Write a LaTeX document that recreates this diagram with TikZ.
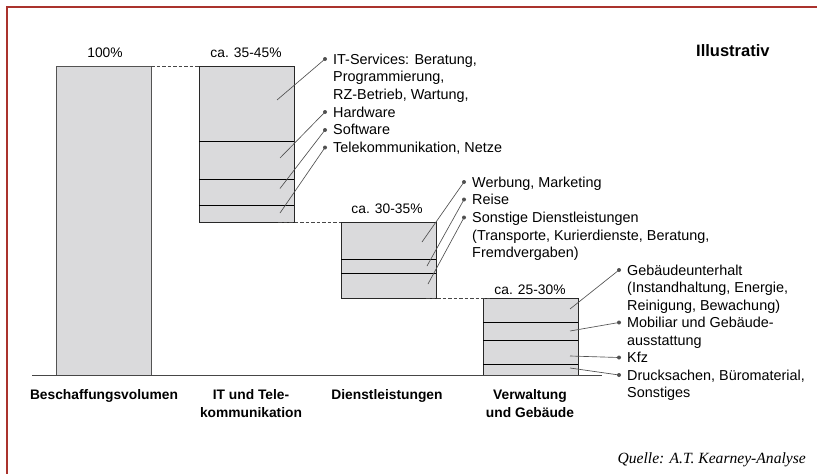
\documentclass[tikz,border=0pt]{standalone}
\usepackage{fontspec}
\setmainfont{Liberation Sans}
\newfontfamily\quellefont{Liberation Serif}
\definecolor{framered}{RGB}{170,50,45}
\definecolor{barfill}{RGB}{218,218,220}
\definecolor{barline}{RGB}{40,40,40}
\definecolor{dashgray}{RGB}{70,70,70}
\definecolor{leadgray}{RGB}{80,80,80}
\begin{document}
\begin{tikzpicture}[x=1pt,y=-1pt,
  bar/.style={draw=barline, fill=barfill, line width=1.1pt, inner sep=0pt, anchor=north west},
  divider/.style={draw=black, line width=1pt},
  dashlink/.style={draw=dashgray, dash pattern=on 3.5pt off 2pt, line width=0.9pt},
  leader/.style={draw=leadgray, line width=0.65pt},
  dot/.style={circle, fill=leadgray, inner sep=0pt, minimum size=4pt},
  lbl/.style={font=\fontsize{14.4}{17.7}\selectfont, inner sep=0pt, align=left, anchor=base west},
  pct/.style={font=\fontsize{13.8}{17.7}\selectfont, inner sep=0pt, anchor=base},
  axislbl/.style={font=\bfseries\fontsize{13.8}{18.5}\selectfont, inner sep=0pt, align=center, anchor=base},
  frameline/.style={draw=framered, line width=1.5pt}
]
\useasboundingbox (0,0) rectangle (817,474);
% frame
\draw[frameline] (7,474) -- (7,7) -- (817,7);

% bars
\node[bar, minimum width=95pt, minimum height=309pt, draw=barline!80] (b1) at (56,66) {};
\node[bar, minimum width=94.5pt, minimum height=156pt] (b2) at (199,66) {};
\node[bar, minimum width=95pt, minimum height=76pt] (b3) at (341,222) {};
\node[bar, minimum width=94.5pt, minimum height=77pt] (b4) at (483,298) {};

% dividers
\draw[divider] (199,141) -- (293.5,141);
\draw[divider] (199,179) -- (293.5,179);
\draw[divider] (199,205) -- (293.5,205);
\draw[divider] (341,259) -- (436,259);
\draw[divider] (341,273) -- (436,273);
\draw[divider] (483,322) -- (577.5,322);
\draw[divider] (483,340) -- (577.5,340);
\draw[divider] (483,364) -- (577.5,364);

% axis
\coordinate (axl) at (32,375);
\coordinate (axr) at (602,375);
\draw[draw=dashgray, line width=1pt] (axl) -- (axr);

% dashed links
\coordinate (l1a) at (151,66);  \coordinate (l1b) at (199,66);
\coordinate (l2a) at (278,222); \coordinate (l2b) at (341,222);
\coordinate (l3a) at (426,298); \coordinate (l3b) at (492,298);
\draw[dashlink] (l1a) -- (l1b);
\draw[dashlink] (l2a) -- (l2b);
\draw[dashlink] (l3a) -- (l3b);

% percent labels
\node[pct] (p1) at (105,57) {100\%};
\node[pct] (p2) at (246,57) {ca. 35-45\%};
\node[pct] (p3) at (387,213) {ca. 30-35\%};
\node[pct] (p4) at (530,294) {ca. 25-30\%};

% leader start points
\coordinate (s1) at (277,100);
\coordinate (s2) at (280,158);
\coordinate (s3) at (280,188.5);
\coordinate (s4) at (280,213);
\coordinate (s5) at (422,242);
\coordinate (s6) at (427,266);
\coordinate (s7) at (428,284);
\coordinate (s8) at (570,309);
\coordinate (s9) at (570,331);
\coordinate (s10) at (570,356);
\coordinate (s11) at (570,368);

% dots
\node[dot] (d1) at (325,59) {};
\node[dot] (d2) at (325,112) {};
\node[dot] (d3) at (325,130) {};
\node[dot] (d4) at (325,147.5) {};
\node[dot] (d5) at (464,182) {};
\node[dot] (d6) at (464,199.5) {};
\node[dot] (d7) at (464,217.5) {};
\node[dot] (d8) at (619,270) {};
\node[dot] (d9) at (619,322.5) {};
\node[dot] (d10) at (619,357.5) {};
\node[dot] (d11) at (619,375) {};

\foreach \i in {1,...,11} \draw[leader] (s\i) -- (d\i.center);

% item labels (multi-line nodes: base = last line)
\node[lbl] (t1) at (333,99.4) {IT-Services: Beratung,\\Programmierung,\\RZ-Betrieb, Wartung,};
\node[lbl] (t2) at (333,117) {Hardware};
\node[lbl] (t3) at (333,134.7) {Software};
\node[lbl] (t4) at (333,152.4) {Telekommunikation, Netze};
\node[lbl] (t5) at (472,187) {Werbung, Marketing};
\node[lbl] (t6) at (472,204.7) {Reise};
\node[lbl] (t7) at (472,257.8) {Sonstige Dienstleistungen\\(Transporte, Kurierdienste, Beratung,\\Fremdvergaben)};
\node[lbl] (t8) at (627,310.4) {Gebäudeunterhalt\\(Instandhaltung, Energie,\\Reinigung, Bewachung)};
\node[lbl] (t9) at (627,345.2) {Mobiliar und Gebäude-\\ausstattung};
\node[lbl] (t10) at (627,362.5) {Kfz};
\node[lbl] (t11) at (627,397.7) {Drucksachen, Büromaterial,\\Sonstiges};

% axis labels
\node[axislbl] (a1) at (104,399) {Beschaffungsvolumen};
\node[axislbl] (a2) at (251,417.5) {IT und Tele-\\kommunikation};
\node[axislbl] (a3) at (387,399) {Dienstleistungen};
\node[axislbl] (a4) at (530,417.5) {Verwaltung\\und Gebäude};

% header and source
\node[font=\bfseries\fontsize{16.5}{20}\selectfont, inner sep=0pt, anchor=base west] (ill) at (696,56) {Illustrativ};
\node[font=\quellefont\itshape\fontsize{15.6}{20}\selectfont, inner sep=0pt, anchor=base east] (src) at (806,463) {Quelle: A.T. Kearney-Analyse};
\end{tikzpicture}
\end{document}
